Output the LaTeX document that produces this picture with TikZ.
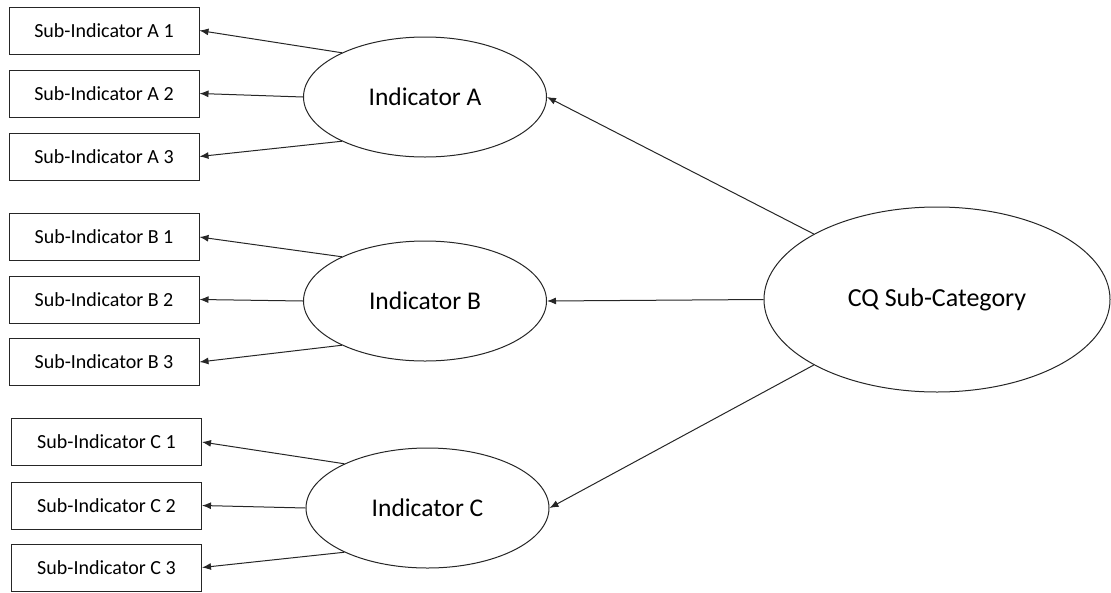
\documentclass[tikz,border=0pt]{standalone}
\usepackage{fontspec}
\setmainfont{Carlito}
\usetikzlibrary{arrows.meta,shapes.geometric}
\begin{document}
\begin{tikzpicture}[x=1pt,y=-1pt,
  subbox/.style={draw=black!85,line width=1pt,minimum width=190pt,minimum height=47pt,inner sep=0pt,font=\fontsize{20}{24}\selectfont},
  indell/.style={draw=black!85,line width=1pt,ellipse,minimum width=243pt,minimum height=120pt,inner sep=0pt,font=\fontsize{25.5}{30}\selectfont},
  arr/.style={draw=black!85,line width=1pt,-{Latex[length=9pt,width=7pt]}}]
\useasboundingbox (0,0) rectangle (1111,592);
% sub-indicator boxes
\node[subbox] (A1) at (104,30.5) {Sub-Indicator A 1};
\node[subbox] (A2) at (104,93.5) {Sub-Indicator A 2};
\node[subbox] (A3) at (104,156.5) {Sub-Indicator A 3};
\node[subbox] (B1) at (104,237) {Sub-Indicator B 1};
\node[subbox] (B2) at (104,299.5) {Sub-Indicator B 2};
\node[subbox] (B3) at (104,362) {Sub-Indicator B 3};
\node[subbox] (C1) at (106.5,442) {Sub-Indicator C 1};
\node[subbox] (C2) at (106.5,505.5) {Sub-Indicator C 2};
\node[subbox] (C3) at (106.5,567.5) {Sub-Indicator C 3};
% indicators
\node[indell] (IA) at (425,97) {Indicator A};
\node[indell] (IB) at (425,301) {Indicator B};
\node[indell] (IC) at (427.5,508) {Indicator C};
% category
\node[draw=black!85,line width=1pt,ellipse,minimum width=346pt,minimum height=185pt,inner sep=0pt,font=\fontsize{26}{30}\selectfont] (CQ) at (937,299.5) {CQ Sub-Category};
% arrows
\draw[arr] (IA.152) -- (A1.east);
\draw[arr] (IA.west) -- (A2.east);
\draw[arr] (IA.208) -- (A3.east);
\draw[arr] (IB.152) -- (B1.east);
\draw[arr] (IB.west) -- (B2.east);
\draw[arr] (IB.208) -- (B3.east);
\draw[arr] (IC.152) -- (C1.east);
\draw[arr] (IC.west) -- (C2.east);
\draw[arr] (IC.208) -- (C3.east);
\draw[arr] (CQ.152) -- (IA.east);
\draw[arr] (CQ.west) -- (IB.east);
\draw[arr] (CQ.208) -- (IC.east);
\end{tikzpicture}
\end{document}
